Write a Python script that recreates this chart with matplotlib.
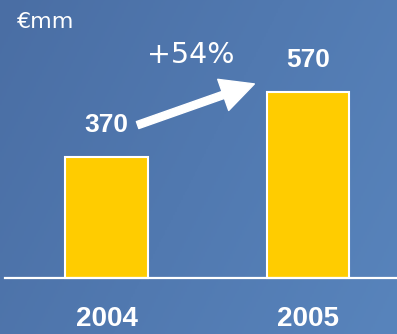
import numpy as np
import matplotlib.pyplot as plt
from matplotlib.colors import LinearSegmentedColormap

years = ['2004', '2005']
values = [370, 570]
unit_label = '€mm'
growth_label = '+54%'

W, H = 397, 334
fig = plt.figure(figsize=(W / 100, H / 100), dpi=100)
ax = fig.add_axes([0, 0, 1, 1])

# background: soft blue gradient, darker on the left
bg = LinearSegmentedColormap.from_list('bg', ['#4a6ea4', '#5884bc'])
gx, gy = np.meshgrid(np.linspace(0, 1, 200), np.linspace(0, 1, 200))
grad = 0.7 * gx + 0.3 * gy
ax.imshow(grad, cmap=bg, extent=[0, 1, 0, 1], transform=ax.transAxes,
          aspect='auto', zorder=0, vmin=0, vmax=1)

x = np.arange(len(years))
ax.bar(x, values, width=0.41, color='#ffcc00', edgecolor='white',
       linewidth=1.5, zorder=2)

ax.set_xlim(-0.5285, 1.4417)
ax.set_ylim(-171.5, 850.7)
ax.axhline(0, xmin=5 / W, xmax=1, color='white', lw=1.6, zorder=3)
ax.axis('off')

font = 'Liberation Sans'
for xi, v, yr in zip(x, values, years):
    ax.annotate(str(v), (xi, v), xytext=(0, 23), textcoords='offset points',
                ha='center', va='center', color='white', fontsize=19,
                fontweight='bold', family=font)
    ax.annotate(yr, (xi, 0), xytext=(0, -29.5), textcoords='offset points',
                ha='center', va='center', color='white', fontsize=20,
                fontweight='bold', family=font)

ax.text(17, H - 22, unit_label, transform=None, ha='left', va='center',
        color='white', fontsize=16, family='DejaVu Sans')
ax.text(191, H - 55, growth_label, transform=None, ha='center', va='center',
        color='white', fontsize=20.5, family='DejaVu Sans')

ax.annotate('', xy=(257, H - 83), xycoords='figure pixels',
            xytext=(135, H - 126), textcoords='figure pixels',
            arrowprops=dict(arrowstyle='simple,head_length=1.7,head_width=1.7,tail_width=0.38',
                            color='white', mutation_scale=14))

fig.savefig('out.png', dpi=100)
